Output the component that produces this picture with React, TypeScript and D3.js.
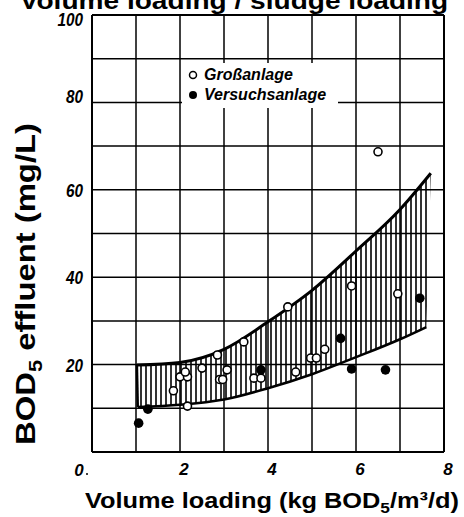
import React from "react";
import * as d3 from "d3";

// open circles = Großanlage, filled = Versuchsanlage
const grossX = [1.85, 2.0, 2.17, 2.12, 2.5, 2.17, 2.85, 3.45, 2.9, 2.97, 3.07, 3.68, 3.84, 4.63, 4.97, 5.1, 5.29, 4.45, 5.9, 6.95, 6.5];
const grossY = [14, 17.2, 17.2, 18.3, 19.2, 10.5, 22.2, 25.2, 16.6, 16.6, 18.8, 16.9, 16.9, 18.3, 21.5, 21.5, 23.5, 33.2, 38, 36.2, 68.7];
const versX = [1.06, 1.27, 3.84, 5.65, 5.9, 6.67, 7.45];
const versY = [6.6, 9.8, 18.8, 26, 19, 18.8, 35.2];

// hatched band boundaries
const upperX = [1.02, 2.0, 3.0, 4.0, 5.0, 6.0, 7.0, 7.7];
const upperY = [19.9, 20.5, 23.5, 29.8, 37, 46, 55.5, 63.8];
const lowerX = [1.04, 2.0, 3.0, 4.0, 5.0, 6.0, 7.0, 7.6];
const lowerY = [10.3, 10.8, 12, 14.6, 17.8, 21.7, 25.8, 28.6];

const xTicks = [2, 4, 6, 8];
const yTicks = [20, 40, 60, 80, 100];
const xGrid = d3.range(0, 9);
const yGrid = d3.range(0, 110, 10);

const W = 464;
const H = 517;
const plot = { left: 92, right: 444, top: 15, bottom: 452 };
const boldFont = "'Liberation Sans', Arial, sans-serif";

export default function App() {
  const x = d3.scaleLinear().domain([0, 8]).range([plot.left, plot.right]);
  const y = d3.scaleLinear().domain([0, 100]).range([plot.bottom, plot.top]);

  const upper = upperX.map((v, i) => [v, upperY[i]] as [number, number]);
  const lower = lowerX.map((v, i) => [v, lowerY[i]] as [number, number]);

  const line = d3
    .line<[number, number]>()
    .x((d) => x(d[0]))
    .y((d) => y(d[1]))
    .curve(d3.curveMonotoneX);

  const upperPath = line(upper) || "";
  const lowerPath = line(lower) || "";
  // closed band: upper forward, lower back
  const bandPath =
    upperPath +
    (line(lower.slice().reverse()) || "").replace(/^M/, "L") +
    "Z";

  // small vertical nudges of the old print's y labels
  const yNudge = (t: number) => (t === 100 ? 11 : t === 80 ? 1 : 7);

  return (
    <svg
      width={W}
      height={H}
      style={{ position: "absolute", left: 0, top: 0, background: "#fff" }}
    >
      <defs>
        <pattern id="hatch" patternUnits="userSpaceOnUse" width={5} height={10}>
          <line x1={1} y1={0} x2={1} y2={10} stroke="#000" strokeWidth={1.6} />
        </pattern>
      </defs>

      {/* x tick labels */}
      {xTicks.map((t) => (
        <text
          key={"xt" + t}
          x={x(t) + 4}
          y={475}
          textAnchor="middle"
          fontFamily={boldFont}
          fontStyle="italic"
          fontWeight="bold"
          fontSize={17}
          fill="#000"
        >
          {String(t)}
        </text>
      ))}

      {/* title, cut off at top */}
      <text
        transform="translate(234,9) scale(1.17,1)"
        textAnchor="middle"
        fontFamily={boldFont}
        fontWeight="bold"
        fontSize={24}
      >
        Volume loading / sludge loading
      </text>

      {/* grid */}
      {xGrid.map((g) => (
        <line
          key={"xg" + g}
          x1={x(g)}
          x2={x(g)}
          y1={plot.top}
          y2={plot.bottom}
          stroke="#000"
          strokeWidth={g === 0 || g === 8 ? 2 : 1.5}
        />
      ))}
      {yGrid.map((g) => (
        <line
          key={"yg" + g}
          x1={plot.left}
          x2={plot.right}
          y1={y(g)}
          y2={y(g)}
          stroke="#000"
          strokeWidth={g === 0 || g === 100 ? 2 : 1.5}
        />
      ))}

      {/* legend */}
      <rect x={182} y={63} width={156} height={45} fill="#fff" />
      <circle cx={193} cy={75} r={3.5} fill="#fff" stroke="#000" strokeWidth={1.5} />
      <circle cx={193} cy={95} r={4} fill="#000" />
      <text x={204} y={80} fontFamily={boldFont} fontStyle="italic" fontWeight="bold" fontSize={16}>
        Großanlage
      </text>
      <text x={204} y={100} fontFamily={boldFont} fontStyle="italic" fontWeight="bold" fontSize={16}>
        Versuchsanlage
      </text>

      {/* band */}
      <path d={bandPath} fill="url(#hatch)" stroke="none" />
      <path d={upperPath} fill="none" stroke="#000" strokeWidth={3} />
      <path d={lowerPath} fill="none" stroke="#000" strokeWidth={2.5} />
      <line
        x1={x(upperX[0])}
        x2={x(lowerX[0])}
        y1={y(upperY[0])}
        y2={y(lowerY[0])}
        stroke="#000"
        strokeWidth={2.5}
      />

      {/* points */}
      {grossX.map((v, i) => (
        <circle
          key={"g" + i}
          cx={x(v)}
          cy={y(grossY[i])}
          r={4}
          fill="#fff"
          stroke="#000"
          strokeWidth={1.6}
        />
      ))}
      {versX.map((v, i) => (
        <circle key={"v" + i} cx={x(v)} cy={y(versY[i])} r={4.8} fill="#000" />
      ))}

      {/* y tick labels */}
      {yTicks.map((t) => (
        <text
          key={"yt" + t}
          x={83 / 0.85}
          y={y(t) + yNudge(t)}
          transform="scale(0.85,1)"
          textAnchor="end"
          fontFamily={boldFont}
          fontStyle="italic"
          fontWeight="bold"
          fontSize={18}
          fill="#000"
        >
          {String(t)}
        </text>
      ))}
      <text
        x={79}
        y={476}
        textAnchor="middle"
        fontFamily={boldFont}
        fontStyle="italic"
        fontWeight="bold"
        fontSize={17}
      >
        0
      </text>
      <circle cx={87} cy={474} r={1} fill="#000" />

      {/* axis titles */}
      <text
        x={35}
        y={284}
        transform="rotate(-90,35,284)"
        textAnchor="middle"
        fontFamily={boldFont}
        fontWeight="bold"
        fontSize={27}
        textLength={322}
        lengthAdjust="spacingAndGlyphs"
      >
        BOD<tspan fontSize={18} dy={7}>5</tspan>
        <tspan dy={-7}> effluent (mg/L)</tspan>
      </text>
      <text
        x={272}
        y={508}
        textAnchor="middle"
        fontFamily={boldFont}
        fontWeight="bold"
        fontSize={22}
        textLength={374}
        lengthAdjust="spacingAndGlyphs"
      >
        Volume loading (kg BOD<tspan fontSize={15} dy={5}>5</tspan>
        <tspan dy={-5}>/m³/d)</tspan>
      </text>
    </svg>
  );
}
